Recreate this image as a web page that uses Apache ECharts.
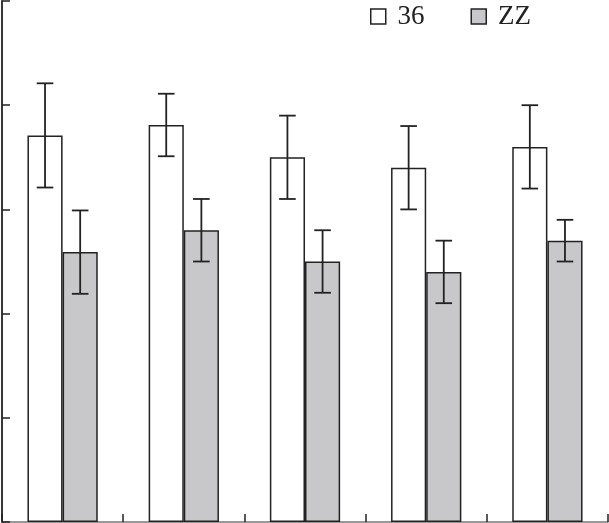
<!DOCTYPE html>
<html>
<head>
<meta charset="utf-8">
<script src="https://cdn.jsdelivr.net/npm/echarts@6/dist/echarts.min.js"></script>
<style>html,body{margin:0;padding:0;background:#fff}#c{width:609px;height:523px}</style>
</head>
<body>
<div id="c"></div>
<script>
const categories = ['1', '2', '3', '4', '5'];
const seriesNames = ['36', 'ZZ'];
const values36 = [37.1, 38.1, 35.0, 34.0, 36.0];
const errors36 = [5.0, 3.0, 4.0, 4.0, 4.0];
const valuesZZ = [25.9, 28.0, 25.0, 24.0, 27.0];
const errorsZZ = [4.0, 3.0, 3.0, 3.0, 2.0];

const BAR_FRAC = 0.29;
const ink = '#222';

function errorSeries(vals, errs, side) {
  return {
    type: 'custom',
    z: 10,
    silent: true,
    data: vals.map((v, i) => [i, v, errs[i]]),
    renderItem: function (params, api) {
      const i = api.value(0), v = api.value(1), e = api.value(2);
      const band = api.size([1, 0])[0];
      const off = side * band * BAR_FRAC / 2;
      const hi = api.coord([i, v + e]);
      const lo = api.coord([i, v - e]);
      const x = hi[0] + off;
      const cap = 8.3;
      const st = { stroke: ink, lineWidth: 1.8 };
      return {
        type: 'group',
        children: [
          { type: 'line', shape: { x1: x, y1: hi[1], x2: x, y2: lo[1] }, style: st },
          { type: 'line', shape: { x1: x - cap, y1: hi[1], x2: x + cap, y2: hi[1] }, style: st },
          { type: 'line', shape: { x1: x - cap, y1: lo[1], x2: x + cap, y2: lo[1] }, style: st }
        ]
      };
    }
  };
}

const chart = echarts.init(document.getElementById('c'), null, { renderer: 'canvas' });
chart.setOption({
  animation: false,
  backgroundColor: '#fff',
  grid: { left: 2, right: 1, top: 1, bottom: 1, containLabel: false },
  legend: {
    left: 370,
    top: 3,
    padding: 0,
    itemWidth: 15,
    itemHeight: 15,
    itemGap: 46,
    icon: 'rect',
    formatter: ' {name}',
    textStyle: { fontFamily: '"Liberation Serif", "Times New Roman", serif', fontSize: 27, color: ink },
    data: [
      { name: seriesNames[0], itemStyle: { color: '#fff', borderColor: ink, borderWidth: 1.5 } },
      { name: seriesNames[1], itemStyle: { color: '#c8c8cb', borderColor: ink, borderWidth: 1.5 } }
    ]
  },
  xAxis: {
    type: 'category',
    data: categories,
    boundaryGap: true,
    axisLine: { show: true, lineStyle: { color: '#777', width: 1.5 } },
    axisTick: { show: true, inside: true, length: 8, lineStyle: { color: ink, width: 1.5 } },
    axisLabel: { show: false },
    splitLine: { show: false }
  },
  yAxis: {
    type: 'value',
    min: 0,
    max: 50,
    interval: 10,
    axisLine: { show: true, lineStyle: { color: ink, width: 1.8 } },
    axisTick: { show: true, inside: true, length: 8, lineStyle: { color: ink, width: 1.5 } },
    axisLabel: { show: false },
    splitLine: { show: false }
  },
  series: [
    {
      name: seriesNames[0], type: 'bar', data: values36,
      barWidth: (BAR_FRAC * 100) + '%', barGap: '0%',
      itemStyle: { color: '#fff', borderColor: ink, borderWidth: 1.5 }
    },
    {
      name: seriesNames[1], type: 'bar', data: valuesZZ,
      barWidth: (BAR_FRAC * 100) + '%', barGap: '0%',
      itemStyle: { color: '#c8c8cb', borderColor: ink, borderWidth: 1.5 }
    },
    errorSeries(values36, errors36, -1),
    errorSeries(valuesZZ, errorsZZ, 1)
  ]
});
</script>
</body>
</html>
